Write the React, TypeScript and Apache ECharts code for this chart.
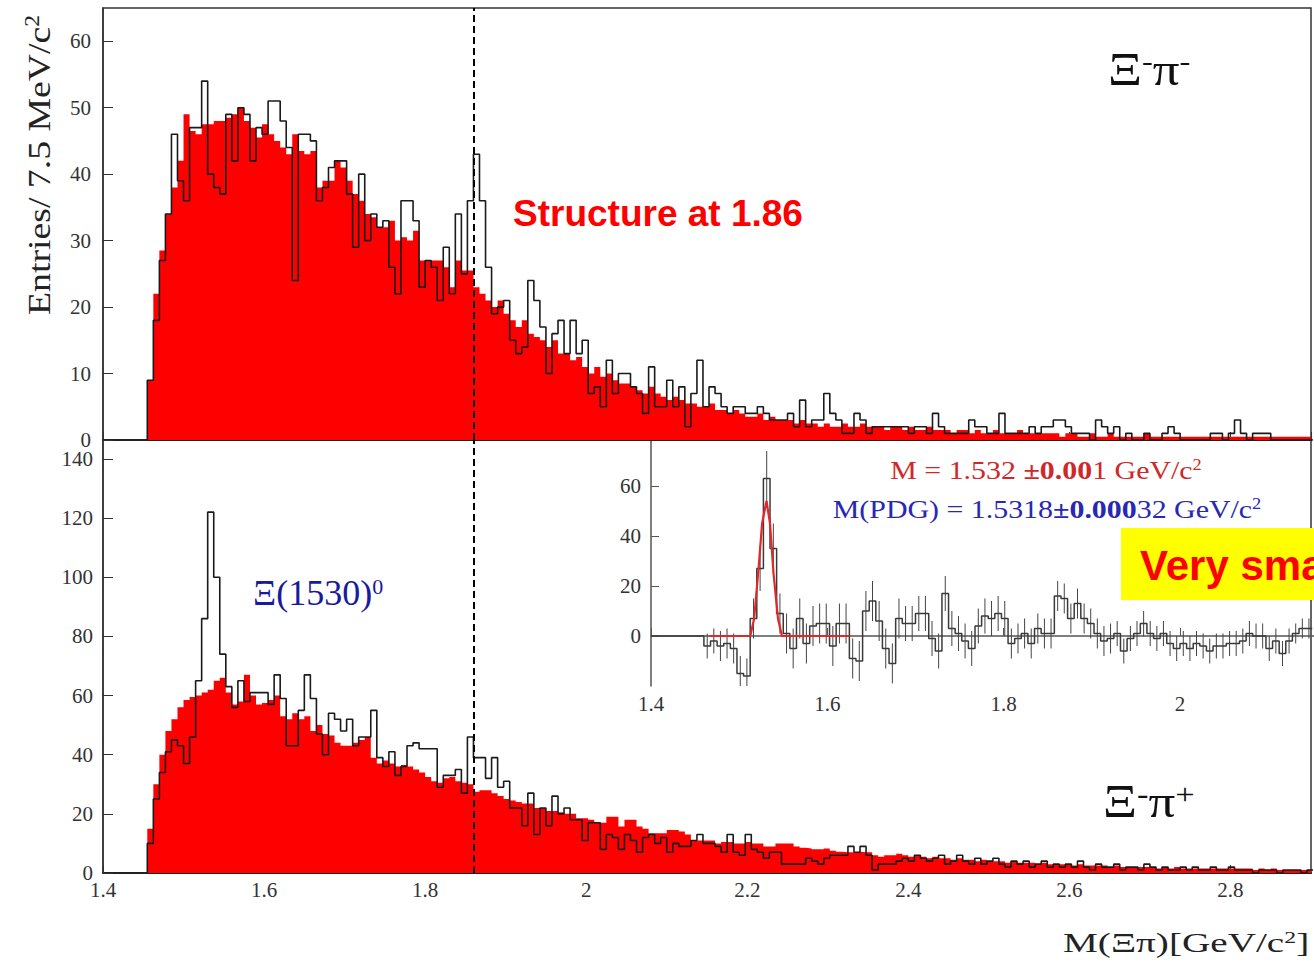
import React, { useEffect, useRef } from "react";
import * as echarts from "echarts";

// ---------- DATA ----------
// Main histograms: 7.5 MeV bins, first bin starts at 1.455 GeV/c^2
const BIN_START = 1.455;
const BIN_WIDTH = 0.0075;

// Xi- pi- (top panel): red filled background and black data histogram
const topBackground = [
  9, 22, 28.5, 34, 38, 42, 49, 46.5, 46, 47.5,
  47.5, 48, 48, 48.5, 49, 50, 48, 47, 45.5, 47.5,
  46, 45, 44, 43, 46, 43.5, 43, 43.5, 38, 39,
  39, 42, 41, 39, 37, 36, 34, 33.5, 32, 32,
  33, 30, 30.5, 30, 31.5, 27, 27, 27, 27, 26,
  23, 27, 25.5, 25.5, 23, 22, 21, 20, 21, 19,
  18, 17, 18, 16, 15.5, 15, 14, 15, 13, 13,
  12, 12.5, 11, 10, 11, 9.5, 10, 9, 8.5, 8.5,
  8, 7.5, 7, 8, 7, 6.5, 6, 6.5, 6, 5.5,
  5.5, 5, 5, 5.5, 4.5, 4.5, 4, 4.5, 4, 3.5,
  3.5, 4, 3, 3.5, 3, 3, 3, 2.5, 3, 2.5,
  2.5, 2, 2.5, 2, 2, 2.5, 2, 2, 2.5, 2,
  2, 2, 1.5, 2, 2, 1.5, 2, 1.5, 1.5, 2,
  1.5, 1.5, 1.5, 1, 1.5, 1.5, 1, 1.5, 1, 1,
  1.5, 1, 1, 1, 1.5, 1, 1, 1, 1, 1,
  1, 0.5, 1, 1, 0.5, 0.5, 1, 0.5, 0.5, 1,
  0.5, 0.5, 0.5, 0.5, 0.5, 1, 0.5, 0.5, 0.5, 0.5,
  0.5, 0.5, 0.5, 0.5, 0.5, 0.5, 0.5, 0.5, 0.5, 0.5,
  0.5, 0.5, 0.5, 0.5, 0.5, 0.5, 0.5, 0.5, 0.5, 0.5,
  0.5, 0.5, 0.5,
];
const topData = [
  9, 18, 27, 34, 46, 39, 36, 47, 47, 54,
  40, 38, 37, 49, 42, 50, 49, 42, 47, 46,
  51, 51, 48, 44, 24, 46, 46, 45, 36, 38,
  41, 42, 42, 37, 29, 40, 30, 34, 32, 33,
  26, 22, 36, 36, 33, 23, 27, 26, 21, 29,
  22, 34, 25, 36, 43, 36, 26, 19, 20, 21,
  15, 13, 14, 24, 21, 17, 10, 16, 18, 13,
  18, 13, 15, 7, 8, 5, 12, 7, 10, 10,
  8, 7, 4, 11, 5, 5, 9, 5, 8, 2,
  7, 12, 5, 8, 7, 5, 4, 5, 5, 4,
  4, 5, 4, 3, 3, 3, 4, 2, 6, 2,
  3, 3, 7, 4, 3, 1, 1, 4, 3, 1,
  2, 2, 2, 2, 2, 2, 1, 2, 2, 1,
  4, 2, 1, 1, 1, 1, 3, 2, 2, 1,
  1, 4, 1, 1, 1, 1, 2, 1, 2, 2,
  3, 3, 2, 1, 1, 1, 0, 3, 2, 1,
  2, 0, 1, 0, 0, 1, 0, 0, 1, 2,
  1, 0, 0, 0, 0, 0, 1, 1, 0, 1,
  3, 1, 0, 1, 1, 1, 0, 0, 0, 0,
  0, 0, 0,
];

// Xi- pi+ (bottom panel)
const bottomBackground = [
  15, 30, 40, 48, 52, 56, 58.5, 59.5, 60, 61,
  62, 65, 66, 61, 57, 58, 67, 60, 57, 57.5,
  58.5, 60, 53, 52, 54, 52, 53, 48, 50, 47,
  46.5, 44, 43, 43, 44, 45, 46, 39, 37, 38,
  37, 36, 36.5, 36, 35, 34, 32.5, 31, 30.5, 32,
  32.5, 31, 30.5, 30, 27.5, 28, 28, 27, 26, 25,
  24.5, 24, 23.5, 23.5, 22, 22, 21, 21, 20.5, 20,
  20, 18.5, 18.5, 18, 17, 17, 19, 19, 15.7, 18,
  18, 15.7, 15, 13.4, 13.4, 13.4, 14.5, 14.5, 14, 13,
  11, 11, 11, 11, 10, 10.5, 10.5, 10, 10, 10.5,
  10, 10, 9, 9, 10, 10, 10, 9, 8.5, 8.3,
  8, 8, 8.3, 7.5, 7.2, 7, 7, 7.2, 7, 7,
  6, 5.5, 6, 6, 6.5, 6, 5.5, 6, 5.5, 5,
  5.5, 5, 5, 4.5, 5, 4.5, 4.5, 4, 4.5, 4,
  4, 4, 3.5, 4, 3.5, 3.5, 3.5, 3, 3.5, 3,
  3, 3, 3, 2.5, 3, 2.5, 2.5, 2.5, 2.5, 2,
  2.5, 2, 2, 2, 2, 2, 2, 1.5, 2, 1.5,
  2, 1.5, 1.5, 1.5, 1.5, 1.5, 1.5, 1.5, 1.5, 1.5,
  1.5, 1.5, 1.5, 1, 1.5, 1, 1.5, 1, 1, 1,
  1, 1, 1,
];
const bottomData = [
  10, 25, 34, 41, 45, 43, 37, 46, 65, 86,
  122, 100, 74, 63, 56, 65, 58, 61, 61, 61,
  57, 67, 59, 43, 43, 55, 67, 59, 47, 40,
  54, 52, 48, 52, 43, 46, 46, 55, 39, 36,
  41, 33, 36, 43, 44, 42, 42, 42, 29, 33,
  33, 35, 27, 46, 39, 39, 32, 39, 29, 31,
  22, 22, 16, 27, 13, 22, 16, 26, 20, 22,
  18, 18, 11, 17, 17, 8, 13, 12, 8, 13,
  11, 7, 12, 13, 10, 12, 7, 10, 9, 9,
  11, 13, 10, 10, 9, 7, 13, 7, 6, 13,
  8, 7, 5, 7, 7, 3, 3, 3, 3, 5,
  4, 3, 5, 6, 6, 6, 9, 7, 9, 6,
  1, 3, 3, 3, 4, 5, 4, 6, 5, 4,
  5, 6, 3, 4, 6, 4, 3, 5, 3, 4,
  5, 3, 2, 4, 3, 4, 2, 3, 4, 2,
  3, 2, 3, 2, 4, 2, 1, 3, 2, 2,
  3, 1, 2, 2, 1, 3, 2, 1, 2, 1,
  1, 2, 1, 2, 1, 1, 2, 1, 1, 2,
  1, 1, 1, 0, 1, 1, 1, 0, 1, 1,
  1, 0, 1,
];

// Inset: background-subtracted Xi- pi+ spectrum, bins from 1.40
const INSET_START = 1.4;
const insetValues = [
  0, 0, 0, 0, 0, 0, 0, 0,
  -4, -2, -4, -3, -5, -15, -16, 7, 27, 63,
  35, 9, 1, -5, 7, -3, 4, 5, 5, -4,
  5, 5, -9, -10, 10, 14, 6, -5, -11, 7,
  5, 5, 9, 9, -1, -6, 17, 3, 1, -2,
  -5, 4, 8, 7, 9, 7, -3, -1, 1, -3,
  3, 1, 1, 16, 15, 7, 13, 7, 5, 1,
  -2, -1, 1, -6, -1, 1, 5, 1, -1, 1,
  -3, -5, -3, -5, -3, -4, -6, -4, -4, -3,
  -3, -2, 1, 0, 0, -5, -2, -7, -2, 1,
  3, 3,
];
const insetErrors = [
  0, 0, 0, 0, 0, 0, 0, 0,
  5, 5, 6, 6, 6, 7, 7, 8, 9, 11,
  10, 8, 8, 8, 8, 8, 8, 8, 8, 8,
  8, 8, 8, 8, 8, 8, 8, 8, 8, 8,
  7, 7, 7, 7, 7, 7, 7, 7, 7, 7,
  7, 7, 7, 7, 7, 7, 6, 6, 6, 6,
  6, 6, 6, 6, 6, 6, 6, 6, 6, 6,
  6, 6, 5, 5, 5, 5, 5, 5, 5, 5,
  5, 5, 5, 5, 5, 5, 5, 5, 5, 5,
  5, 5, 5, 5, 5, 5, 5, 5, 5, 4,
  4, 4,
];
// Gaussian fit curve of the Xi(1530)0 peak
const fitMass = [1.466, 1.5126, 1.517, 1.522, 1.526, 1.531, 1.535, 1.539, 1.544, 1.5485, 1.625];
const fitValue = [0, 0, 7, 27, 45, 54, 45, 25, 7, 0, 0];

const STRUCTURE_MASS = 1.862;

// ---------- helpers ----------
function histPoints(values: number[], start: number, width: number) {
  const pts: number[][] = [[start, 0]];
  values.forEach((v, i) => pts.push([start + i * width, v]));
  pts.push([start + values.length * width, values[values.length - 1]]);
  return pts;
}

const SERIF = '"Liberation Serif", "Times New Roman", serif';
const SANS = '"Liberation Sans", Arial, sans-serif';

const axisLabelStyle = { fontFamily: SERIF, fontSize: 21, color: "#333" };

export default function App() {
  const ref = useRef<HTMLDivElement>(null);

  useEffect(() => {
    if (!ref.current) return;
    const chart = echarts.init(ref.current, undefined, { renderer: "svg" });

    const dashed = {
      silent: true,
      symbol: ["none", "none"],
      label: { show: false },
      lineStyle: { type: [7, 4], color: "#000", width: 2 },
      data: [{ xAxis: STRUCTURE_MASS }],
    };

    const errorData = insetValues
      .map((v, i) => [INSET_START + (i + 0.5) * BIN_WIDTH, v, insetErrors[i]])
      .filter((d) => d[2] > 0);

    const option: any = {
      animation: false,
      backgroundColor: "#ffffff",
      grid: [
        { left: 103, top: 8, width: 1208, height: 432, show: true, borderColor: "#333", borderWidth: 1.5 },
        { left: 103, top: 440, width: 1208, height: 433, show: true, borderColor: "#333", borderWidth: 1.5 },
        { left: 651, top: 441, width: 663, height: 245, show: false },
      ],
      xAxis: [
        {
          gridIndex: 0, type: "value", min: 1.4, max: 2.9, interval: 0.2,
          axisLabel: { show: false },
          axisTick: { inside: true, length: 8, lineStyle: { color: "#333" } },
          axisLine: { lineStyle: { color: "#222", width: 2 } },
          splitLine: { show: false },
        },
        {
          gridIndex: 1, type: "value", min: 1.4, max: 2.9, interval: 0.2,
          axisLabel: { ...axisLabelStyle, margin: 6, showMaxLabel: false },
          axisTick: { inside: true, length: 8, lineStyle: { color: "#333" } },
          axisLine: { lineStyle: { color: "#222", width: 2 } },
          splitLine: { show: false },
        },
        {
          gridIndex: 2, type: "value", min: 1.4, max: 2.152, interval: 0.2,
          axisLabel: { ...axisLabelStyle, margin: 7, showMaxLabel: false },
          axisTick: { inside: true, length: 8, lineStyle: { color: "#555" } },
          axisLine: { lineStyle: { color: "#555", width: 1.5 } },
          splitLine: { show: false },
        },
      ],
      yAxis: [
        {
          gridIndex: 0, type: "value", min: 0, max: 65, interval: 10,
          axisLabel: { ...axisLabelStyle, margin: 12, showMaxLabel: false },
          axisTick: { inside: true, length: 10, lineStyle: { color: "#333" } },
          axisLine: { show: true, lineStyle: { color: "#333", width: 1.5 } },
          splitLine: { show: false },
        },
        {
          gridIndex: 1, type: "value", min: 0, max: 146.4, interval: 20,
          axisLabel: { ...axisLabelStyle, margin: 10, showMaxLabel: false },
          axisTick: { inside: true, length: 10, lineStyle: { color: "#333" } },
          axisLine: { show: true, lineStyle: { color: "#333", width: 1.5 } },
          splitLine: { show: false },
        },
        {
          gridIndex: 2, type: "value", min: -20, max: 78, interval: 20,
          axisLabel: { ...axisLabelStyle, margin: 10, showMaxLabel: false, showMinLabel: false },
          axisTick: { inside: true, length: 8, lineStyle: { color: "#555" } },
          axisLine: { show: true, lineStyle: { color: "#555", width: 1.5 } },
          splitLine: { show: false },
        },
      ],
      series: [
        {
          type: "line", xAxisIndex: 0, yAxisIndex: 0, step: "end", symbol: "none",
          data: histPoints(topBackground, BIN_START, BIN_WIDTH),
          lineStyle: { width: 0, opacity: 0 },
          itemStyle: { color: "#ff0000" },
          areaStyle: { color: "#ff0000", opacity: 1 },
        },
        {
          type: "line", xAxisIndex: 0, yAxisIndex: 0, step: "end", symbol: "none",
          data: histPoints(topData, BIN_START, BIN_WIDTH),
          lineStyle: { color: "#1a1a1a", width: 1.6 },
          itemStyle: { color: "#1a1a1a" },
          markLine: dashed,
        },
        {
          type: "line", xAxisIndex: 1, yAxisIndex: 1, step: "end", symbol: "none",
          data: histPoints(bottomBackground, BIN_START, BIN_WIDTH),
          lineStyle: { width: 0, opacity: 0 },
          itemStyle: { color: "#ff0000" },
          areaStyle: { color: "#ff0000", opacity: 1 },
        },
        {
          type: "line", xAxisIndex: 1, yAxisIndex: 1, step: "end", symbol: "none",
          data: histPoints(bottomData, BIN_START, BIN_WIDTH),
          lineStyle: { color: "#1a1a1a", width: 1.6 },
          itemStyle: { color: "#1a1a1a" },
          markLine: dashed,
        },
        {
          type: "line", xAxisIndex: 2, yAxisIndex: 2, step: "end", symbol: "none",
          data: histPoints(insetValues, INSET_START, BIN_WIDTH),
          lineStyle: { color: "#3a3a3a", width: 1.5 },
          itemStyle: { color: "#3a3a3a" },
        },
        {
          type: "custom", xAxisIndex: 2, yAxisIndex: 2, clip: true,
          data: errorData,
          encode: { x: 0, y: 1 },
          renderItem: (params: any, api: any) => {
            const x = api.value(0);
            const y = api.value(1);
            const e = api.value(2);
            const p1 = api.coord([x, y - e]);
            const p2 = api.coord([x, y + e]);
            return {
              type: "line",
              shape: { x1: p1[0], y1: p1[1], x2: p2[0], y2: p2[1] },
              style: { stroke: "#444", lineWidth: 1 },
            };
          },
        },
        {
          type: "line", xAxisIndex: 2, yAxisIndex: 2, symbol: "none",
          data: fitMass.map((m, i) => [m, fitValue[i]]),
          lineStyle: { color: "#e02828", width: 2.2 },
          itemStyle: { color: "#e02828" },
        },
      ],
      graphic: {
        elements: [
          {
            type: "text", x: 39, y: 165, rotation: Math.PI / 2, scaleX: 1.18, z: 100,
            style: {
              text: "{m|Entries/ 7.5 MeV/c}{s|2}",
              rich: {
                m: { fontSize: 32, fontFamily: SERIF, fill: "#222" },
                s: { fontSize: 20, fontFamily: SERIF, fill: "#222", verticalAlign: "top" },
              },
              textAlign: "center", textVerticalAlign: "middle",
            },
          },
          {
            type: "text", x: 1108, y: 70, scaleX: 1.15, z: 100,
            style: {
              text: "{a|Ξ}{s|-}{a|π}{s|-}",
              rich: {
                a: { fontSize: 46, fontFamily: SERIF, fill: "#111" },
                s: { fontSize: 28, fontFamily: SERIF, fill: "#111", verticalAlign: "top" },
              },
              textAlign: "left", textVerticalAlign: "middle",
            },
          },
          {
            type: "text", x: 1103, y: 802, scaleX: 1.15, z: 100,
            style: {
              text: "{a|Ξ}{s|-}{a|π}{s|+}",
              rich: {
                a: { fontSize: 46, fontFamily: SERIF, fill: "#111" },
                s: { fontSize: 30, fontFamily: SERIF, fill: "#111", verticalAlign: "top" },
              },
              textAlign: "left", textVerticalAlign: "middle",
            },
          },
          {
            type: "text", x: 513, y: 213, z: 100,
            style: {
              text: "Structure at 1.86",
              font: `bold 37px ${SANS}`,
              fill: "#ff0000",
              textAlign: "left", textVerticalAlign: "middle",
            },
          },
          {
            type: "text", x: 253, y: 593, z: 100,
            style: {
              text: "{a|Ξ(1530)}{s|0}",
              rich: {
                a: { fontSize: 36, fontFamily: SERIF, fill: "#1a1a9c" },
                s: { fontSize: 22, fontFamily: SERIF, fill: "#1a1a9c", verticalAlign: "top" },
              },
              textAlign: "left", textVerticalAlign: "middle",
            },
          },
          {
            type: "text", x: 1046, y: 470, scaleX: 1.15, z: 100,
            style: {
              text: "{n|M = 1.532 }{b|±0.00}{n|1 GeV/c}{s|2}",
              rich: {
                n: { fontSize: 26, fontFamily: SERIF, fill: "#d02828" },
                b: { fontSize: 26, fontFamily: SERIF, fontWeight: "bold", fill: "#d02828" },
                s: { fontSize: 16, fontFamily: SERIF, fill: "#d02828", verticalAlign: "top" },
              },
              textAlign: "center", textVerticalAlign: "middle",
            },
          },
          {
            type: "text", x: 1047, y: 509, scaleX: 1.15, z: 100,
            style: {
              text: "{n|M(PDG) = 1.5318}{b|±0.000}{n|32 GeV/c}{s|2}",
              rich: {
                n: { fontSize: 26, fontFamily: SERIF, fill: "#2828b4" },
                b: { fontSize: 26, fontFamily: SERIF, fontWeight: "bold", fill: "#2828b4" },
                s: { fontSize: 16, fontFamily: SERIF, fill: "#2828b4", verticalAlign: "top" },
              },
              textAlign: "center", textVerticalAlign: "middle",
            },
          },
          {
            type: "rect", z: 100,
            shape: { x: 1121, y: 528, width: 200, height: 72 },
            style: { fill: "#ffff00" },
          },
          {
            type: "text", x: 1140, y: 565, z: 101,
            style: {
              text: "Very small",
              font: `bold 42px ${SANS}`,
              fill: "#ff0000",
              textAlign: "left", textVerticalAlign: "middle",
            },
          },
          {
            type: "text", x: 1063, y: 943, scaleX: 1.4, z: 100,
            style: {
              text: "{m|M(Ξπ)[GeV/c}{s|2}{m|]}",
              rich: {
                m: { fontSize: 28, fontFamily: SERIF, fill: "#222" },
                s: { fontSize: 17, fontFamily: SERIF, fill: "#222", verticalAlign: "top" },
              },
              textAlign: "left", textVerticalAlign: "middle",
            },
          },
        ],
      },
    };

    chart.setOption(option);
    return () => chart.dispose();
  }, []);

  return (
    <div
      ref={ref}
      style={{ position: "absolute", left: 0, top: 0, width: 1314, height: 965 }}
    />
  );
}
